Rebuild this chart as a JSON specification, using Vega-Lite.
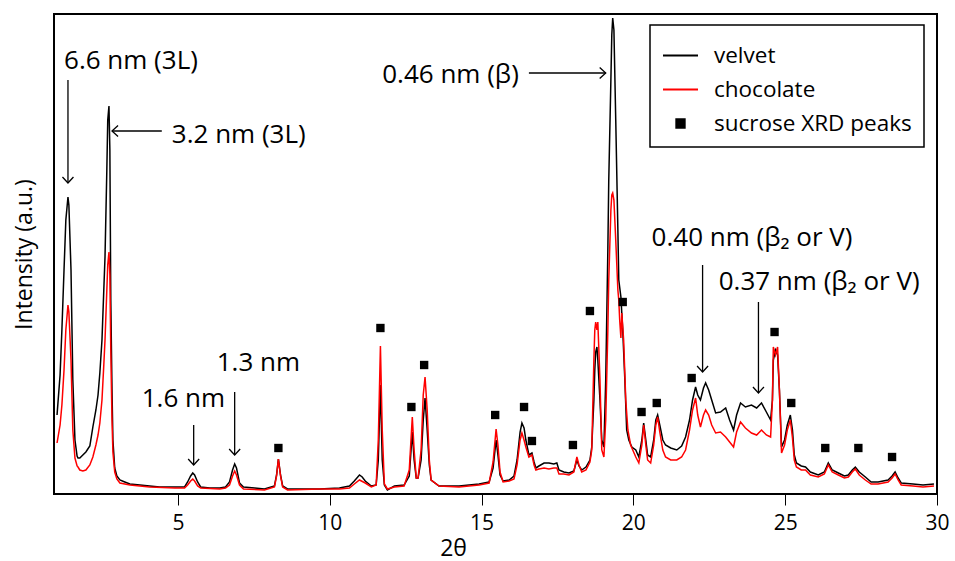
{
  "$schema": "https://vega.github.io/schema/vega-lite/v6.json",
  "width": 883,
  "height": 480,
  "autosize": {"type": "none"},
  "padding": {"left": 54, "top": 14, "right": 18, "bottom": 67},
  "background": "white",
  "config": {
    "font": "Open Sans",
    "view": {"stroke": "black", "strokeWidth": 2},
    "legend": {
      "orient": "none",
      "legendX": 596,
      "legendY": 11,
      "strokeColor": "black",
      "strokeWidth": 1.5,
      "padding": 12,
      "labelFont": "Open Sans",
      "labelFontSize": 22.5,
      "labelColor": "black",
      "labelOffset": 15,
      "labelLimit": 0,
      "symbolType": "stroke",
      "symbolSize": 1225,
      "symbolStrokeWidth": 2,
      "rowPadding": 4,
      "title": null
    }
  },
  "datasets": {
    "velvet": [
      {"x":1.02,"y":79},{"x":1.12,"y":119},{"x":1.18,"y":164},{"x":1.25,"y":224},{"x":1.31,"y":274},{"x":1.38,"y":297},{"x":1.41,"y":289},{"x":1.48,"y":224},{"x":1.54,"y":114},{"x":1.61,"y":54},{"x":1.68,"y":38},{"x":1.71,"y":36},{"x":1.77,"y":36},{"x":1.87,"y":39},{"x":1.97,"y":42},{"x":2.10,"y":48},{"x":2.20,"y":67},{"x":2.30,"y":84},{"x":2.37,"y":99},{"x":2.43,"y":121},{"x":2.50,"y":154},{"x":2.56,"y":204},{"x":2.60,"y":237},{"x":2.66,"y":324},{"x":2.69,"y":374},{"x":2.73,"y":388},{"x":2.76,"y":344},{"x":2.79,"y":194},{"x":2.83,"y":104},{"x":2.86,"y":54},{"x":2.92,"y":26},{"x":2.99,"y":18},{"x":3.09,"y":14},{"x":3.25,"y":12},{"x":3.42,"y":10},{"x":3.75,"y":9},{"x":4.07,"y":8},{"x":4.40,"y":7},{"x":4.90,"y":7},{"x":5.22,"y":7},{"x":5.32,"y":12},{"x":5.42,"y":18},{"x":5.49,"y":21},{"x":5.55,"y":19},{"x":5.65,"y":12},{"x":5.75,"y":7},{"x":6.05,"y":6},{"x":6.38,"y":6},{"x":6.57,"y":7},{"x":6.70,"y":12},{"x":6.80,"y":24},{"x":6.87,"y":30},{"x":6.93,"y":26},{"x":7.03,"y":11},{"x":7.16,"y":7},{"x":7.53,"y":6},{"x":7.85,"y":5},{"x":8.18,"y":8},{"x":8.25,"y":19},{"x":8.31,"y":35},{"x":8.38,"y":19},{"x":8.45,"y":8},{"x":8.61,"y":5},{"x":9.00,"y":5},{"x":9.66,"y":5},{"x":10.32,"y":6},{"x":10.65,"y":8},{"x":10.81,"y":13},{"x":10.98,"y":19},{"x":11.07,"y":17},{"x":11.17,"y":13},{"x":11.37,"y":8},{"x":11.53,"y":9},{"x":11.60,"y":34},{"x":11.67,"y":109},{"x":11.73,"y":34},{"x":11.80,"y":9},{"x":11.90,"y":4},{"x":12.13,"y":8},{"x":12.45,"y":9},{"x":12.62,"y":18},{"x":12.72,"y":62},{"x":12.78,"y":34},{"x":12.85,"y":16},{"x":12.91,"y":16},{"x":13.01,"y":34},{"x":13.08,"y":74},{"x":13.14,"y":96},{"x":13.21,"y":64},{"x":13.28,"y":29},{"x":13.34,"y":14},{"x":13.60,"y":8},{"x":14.26,"y":8},{"x":14.92,"y":10},{"x":15.25,"y":12},{"x":15.38,"y":26},{"x":15.48,"y":54},{"x":15.54,"y":39},{"x":15.61,"y":19},{"x":15.71,"y":13},{"x":15.91,"y":14},{"x":16.07,"y":18},{"x":16.17,"y":34},{"x":16.27,"y":62},{"x":16.33,"y":71},{"x":16.40,"y":66},{"x":16.46,"y":54},{"x":16.56,"y":39},{"x":16.66,"y":41},{"x":16.73,"y":32},{"x":16.79,"y":26},{"x":16.89,"y":28},{"x":17.06,"y":31},{"x":17.22,"y":31},{"x":17.38,"y":30},{"x":17.48,"y":31},{"x":17.55,"y":24},{"x":17.71,"y":22},{"x":17.88,"y":21},{"x":18.04,"y":23},{"x":18.14,"y":34},{"x":18.21,"y":28},{"x":18.30,"y":24},{"x":18.44,"y":27},{"x":18.57,"y":34},{"x":18.63,"y":47},{"x":18.70,"y":94},{"x":18.73,"y":124},{"x":18.76,"y":142},{"x":18.80,"y":147},{"x":18.83,"y":134},{"x":18.90,"y":94},{"x":18.96,"y":54},{"x":19.03,"y":47},{"x":19.09,"y":114},{"x":19.16,"y":244},{"x":19.19,"y":314},{"x":19.26,"y":414},{"x":19.29,"y":459},{"x":19.32,"y":476},{"x":19.36,"y":464},{"x":19.42,"y":374},{"x":19.49,"y":264},{"x":19.52,"y":214},{"x":19.59,"y":197},{"x":19.65,"y":164},{"x":19.72,"y":114},{"x":19.78,"y":64},{"x":19.85,"y":54},{"x":19.95,"y":47},{"x":20.08,"y":44},{"x":20.18,"y":37},{"x":20.28,"y":54},{"x":20.34,"y":71},{"x":20.41,"y":54},{"x":20.47,"y":39},{"x":20.57,"y":37},{"x":20.67,"y":54},{"x":20.74,"y":74},{"x":20.80,"y":79},{"x":20.87,"y":69},{"x":20.97,"y":54},{"x":21.06,"y":49},{"x":21.23,"y":46},{"x":21.43,"y":44},{"x":21.59,"y":48},{"x":21.72,"y":57},{"x":21.85,"y":74},{"x":21.95,"y":94},{"x":22.05,"y":107},{"x":22.12,"y":99},{"x":22.21,"y":94},{"x":22.31,"y":106},{"x":22.38,"y":111},{"x":22.48,"y":104},{"x":22.58,"y":94},{"x":22.71,"y":81},{"x":22.87,"y":82},{"x":23.04,"y":86},{"x":23.17,"y":74},{"x":23.30,"y":64},{"x":23.40,"y":79},{"x":23.53,"y":91},{"x":23.69,"y":87},{"x":23.89,"y":89},{"x":24.06,"y":86},{"x":24.22,"y":91},{"x":24.38,"y":82},{"x":24.52,"y":74},{"x":24.58,"y":94},{"x":24.61,"y":134},{"x":24.68,"y":144},{"x":24.75,"y":139},{"x":24.81,"y":104},{"x":24.88,"y":47},{"x":24.98,"y":54},{"x":25.07,"y":69},{"x":25.17,"y":79},{"x":25.24,"y":64},{"x":25.30,"y":39},{"x":25.37,"y":31},{"x":25.53,"y":28},{"x":25.67,"y":27},{"x":25.83,"y":22},{"x":26.09,"y":19},{"x":26.29,"y":22},{"x":26.42,"y":31},{"x":26.55,"y":24},{"x":26.75,"y":21},{"x":26.95,"y":18},{"x":27.08,"y":19},{"x":27.21,"y":24},{"x":27.31,"y":27},{"x":27.44,"y":22},{"x":27.64,"y":17},{"x":27.83,"y":12},{"x":28.06,"y":12},{"x":28.39,"y":14},{"x":28.52,"y":18},{"x":28.62,"y":22},{"x":28.72,"y":16},{"x":28.82,"y":11},{"x":29.21,"y":10},{"x":29.54,"y":9},{"x":29.90,"y":10}
    ],
    "chocolate": [
      {"x":1.02,"y":51},{"x":1.12,"y":69},{"x":1.18,"y":89},{"x":1.25,"y":124},{"x":1.31,"y":164},{"x":1.38,"y":189},{"x":1.41,"y":182},{"x":1.48,"y":134},{"x":1.54,"y":64},{"x":1.61,"y":36},{"x":1.68,"y":28},{"x":1.71,"y":27},{"x":1.77,"y":24},{"x":1.87,"y":23},{"x":1.97,"y":24},{"x":2.10,"y":29},{"x":2.20,"y":37},{"x":2.30,"y":49},{"x":2.37,"y":59},{"x":2.43,"y":71},{"x":2.50,"y":94},{"x":2.56,"y":129},{"x":2.60,"y":154},{"x":2.66,"y":204},{"x":2.69,"y":229},{"x":2.73,"y":242},{"x":2.76,"y":219},{"x":2.79,"y":144},{"x":2.83,"y":74},{"x":2.86,"y":42},{"x":2.92,"y":22},{"x":2.99,"y":15},{"x":3.09,"y":11},{"x":3.42,"y":9},{"x":4.07,"y":7},{"x":4.90,"y":6},{"x":5.22,"y":6},{"x":5.32,"y":9},{"x":5.42,"y":13},{"x":5.49,"y":15},{"x":5.55,"y":13},{"x":5.65,"y":8},{"x":5.75,"y":6},{"x":6.38,"y":5},{"x":6.57,"y":6},{"x":6.70,"y":9},{"x":6.80,"y":18},{"x":6.87,"y":23},{"x":6.93,"y":19},{"x":7.03,"y":9},{"x":7.16,"y":5},{"x":7.85,"y":4},{"x":8.18,"y":7},{"x":8.25,"y":18},{"x":8.31,"y":35},{"x":8.38,"y":18},{"x":8.45,"y":7},{"x":8.61,"y":4},{"x":9.66,"y":5},{"x":10.32,"y":5},{"x":10.65,"y":6},{"x":10.81,"y":10},{"x":10.98,"y":14},{"x":11.17,"y":11},{"x":11.37,"y":7},{"x":11.53,"y":9},{"x":11.60,"y":54},{"x":11.67,"y":148},{"x":11.73,"y":64},{"x":11.80,"y":10},{"x":11.90,"y":5},{"x":12.13,"y":7},{"x":12.45,"y":8},{"x":12.62,"y":24},{"x":12.72,"y":77},{"x":12.78,"y":44},{"x":12.85,"y":16},{"x":12.91,"y":16},{"x":13.01,"y":44},{"x":13.08,"y":99},{"x":13.14,"y":117},{"x":13.21,"y":84},{"x":13.28,"y":34},{"x":13.34,"y":14},{"x":13.60,"y":8},{"x":14.26,"y":7},{"x":14.92,"y":9},{"x":15.25,"y":11},{"x":15.38,"y":32},{"x":15.48,"y":65},{"x":15.54,"y":49},{"x":15.61,"y":22},{"x":15.71,"y":12},{"x":15.91,"y":13},{"x":16.07,"y":15},{"x":16.17,"y":29},{"x":16.27,"y":54},{"x":16.33,"y":61},{"x":16.40,"y":54},{"x":16.46,"y":47},{"x":16.56,"y":37},{"x":16.66,"y":39},{"x":16.73,"y":29},{"x":16.79,"y":24},{"x":16.89,"y":25},{"x":17.06,"y":26},{"x":17.22,"y":25},{"x":17.38,"y":26},{"x":17.48,"y":26},{"x":17.55,"y":20},{"x":17.71,"y":20},{"x":17.88,"y":19},{"x":18.04,"y":22},{"x":18.14,"y":37},{"x":18.21,"y":29},{"x":18.30,"y":22},{"x":18.44,"y":24},{"x":18.57,"y":32},{"x":18.63,"y":44},{"x":18.70,"y":134},{"x":18.73,"y":164},{"x":18.76,"y":172},{"x":18.80,"y":164},{"x":18.83,"y":172},{"x":18.90,"y":114},{"x":18.96,"y":44},{"x":19.03,"y":37},{"x":19.09,"y":74},{"x":19.16,"y":164},{"x":19.19,"y":214},{"x":19.26,"y":284},{"x":19.29,"y":299},{"x":19.32,"y":301},{"x":19.36,"y":294},{"x":19.42,"y":254},{"x":19.49,"y":204},{"x":19.52,"y":194},{"x":19.55,"y":174},{"x":19.59,"y":156},{"x":19.62,"y":181},{"x":19.68,"y":154},{"x":19.75,"y":94},{"x":19.82,"y":64},{"x":19.91,"y":49},{"x":20.08,"y":37},{"x":20.18,"y":31},{"x":20.28,"y":49},{"x":20.34,"y":69},{"x":20.41,"y":49},{"x":20.47,"y":34},{"x":20.57,"y":31},{"x":20.67,"y":49},{"x":20.74,"y":69},{"x":20.80,"y":77},{"x":20.87,"y":62},{"x":20.97,"y":44},{"x":21.06,"y":37},{"x":21.23,"y":34},{"x":21.43,"y":34},{"x":21.59,"y":37},{"x":21.72,"y":44},{"x":21.85,"y":64},{"x":21.95,"y":84},{"x":22.05,"y":96},{"x":22.12,"y":79},{"x":22.21,"y":67},{"x":22.31,"y":79},{"x":22.38,"y":84},{"x":22.48,"y":79},{"x":22.58,"y":69},{"x":22.71,"y":61},{"x":22.87,"y":62},{"x":23.04,"y":57},{"x":23.17,"y":52},{"x":23.30,"y":47},{"x":23.40,"y":62},{"x":23.53,"y":72},{"x":23.69,"y":66},{"x":23.89,"y":61},{"x":24.06,"y":59},{"x":24.22,"y":64},{"x":24.38,"y":59},{"x":24.52,"y":57},{"x":24.58,"y":94},{"x":24.61,"y":147},{"x":24.68,"y":139},{"x":24.75,"y":147},{"x":24.81,"y":104},{"x":24.88,"y":41},{"x":24.98,"y":49},{"x":25.07,"y":64},{"x":25.17,"y":74},{"x":25.24,"y":56},{"x":25.30,"y":34},{"x":25.37,"y":27},{"x":25.53,"y":24},{"x":25.67,"y":24},{"x":25.83,"y":19},{"x":26.09,"y":17},{"x":26.29,"y":20},{"x":26.42,"y":29},{"x":26.55,"y":22},{"x":26.75,"y":19},{"x":26.95,"y":16},{"x":27.08,"y":17},{"x":27.21,"y":22},{"x":27.31,"y":25},{"x":27.44,"y":19},{"x":27.64,"y":14},{"x":27.83,"y":10},{"x":28.06,"y":10},{"x":28.39,"y":12},{"x":28.52,"y":16},{"x":28.62,"y":20},{"x":28.72,"y":14},{"x":28.82,"y":9},{"x":29.21,"y":8},{"x":29.54,"y":7},{"x":29.90,"y":8}
    ],
    "peaks": [
      {"x":8.31,"y":46},{"x":11.67,"y":166},{"x":12.69,"y":87},{"x":13.11,"y":129},{"x":15.45,"y":79},{"x":16.40,"y":87},{"x":16.66,"y":53},{"x":18.01,"y":49},{"x":18.57,"y":183},{"x":19.65,"y":192},{"x":20.27,"y":82},{"x":20.77,"y":91},{"x":21.92,"y":116},{"x":24.65,"y":162},{"x":25.20,"y":91},{"x":26.32,"y":46},{"x":27.41,"y":46},{"x":28.52,"y":37}
    ],
    "labels": [
      {"label":"6.6 nm (3L)","x":1.25,"y":433},
      {"label":"3.2 nm (3L)","x":4.80,"y":359},
      {"label":"0.46 nm (β)","x":11.73,"y":419},
      {"label":"1.6 nm","x":3.81,"y":95},
      {"label":"1.3 nm","x":6.28,"y":131},
      {"label":"0.40 nm (β₂ or V)","x":20.60,"y":256},
      {"label":"0.37 nm (β₂ or V)","x":22.81,"y":212}
    ],
    "arrows": [
      {"x":1.38,"x2":1.38,"y":414,"y2":311,"dir":"down"},
      {"x":4.47,"x2":2.83,"y":363,"y2":363,"dir":"left"},
      {"x":16.56,"x2":19.09,"y":421,"y2":421,"dir":"right"},
      {"x":5.52,"x2":5.52,"y":69,"y2":29,"dir":"down"},
      {"x":6.87,"x2":6.87,"y":102,"y2":39,"dir":"down"},
      {"x":22.28,"x2":22.28,"y":229,"y2":122,"dir":"down"},
      {"x":24.12,"x2":24.12,"y":192,"y2":101,"dir":"down"}
    ]
  },
  "encoding": {
    "x": {
      "field": "x",
      "type": "quantitative",
      "scale": {"domain": [0.92, 30], "nice": false, "zero": false},
      "axis": {
        "title": "2θ",
        "values": [5, 10, 15, 20, 25, 30],
        "grid": false,
        "domain": false,
        "ticks": true,
        "tickSize": 11,
        "tickColor": "black",
        "tickWidth": 1,
        "labelFont": "Open Sans",
        "labelFontSize": 21,
        "labelColor": "black",
        "labelPadding": 7,
        "labelFlush": false,
        "titleFont": "Open Sans",
        "titleFontSize": 23,
        "titleFontWeight": "normal",
        "titleColor": "black",
        "titleX": 399,
        "titleY": 54,
        "titleBaseline": "middle"
      }
    },
    "y": {
      "field": "y",
      "type": "quantitative",
      "scale": {"domain": [0, 480], "nice": false},
      "axis": {
        "title": "Intensity (a.u.)",
        "labels": false,
        "ticks": false,
        "domain": false,
        "grid": false,
        "titleFont": "Open Sans",
        "titleFontSize": 23,
        "titleFontWeight": "normal",
        "titleColor": "black",
        "titleX": -30,
        "titleY": 240,
        "titleBaseline": "middle"
      }
    }
  },
  "layer": [
    {
      "data": {"name": "velvet"},
      "mark": {"type": "line", "strokeWidth": 1.5, "interpolate": "linear"},
      "encoding": {
        "color": {
          "datum": "velvet",
          "type": "nominal",
          "scale": {"domain": ["velvet", "chocolate", "sucrose XRD peaks"], "range": ["black", "#ff0000", "black"]},
          "legend": {
            "encode": {
              "symbols": {
                "update": {
                  "shape": {"signal": "datum.value === 'sucrose XRD peaks' ? 'square' : 'stroke'"},
                  "size": {"signal": "datum.value === 'sucrose XRD peaks' ? 70 : 1225"},
                  "fill": {"signal": "datum.value === 'sucrose XRD peaks' ? 'black' : 'transparent'"},
                  "stroke": {"signal": "datum.value === 'velvet' ? 'black' : datum.value === 'chocolate' ? '#ff0000' : 'transparent'"},
                  "strokeWidth": {"value": 2},
                  "opacity": {"value": 1}
                }
              }
            }
          }
        }
      }
    },
    {
      "data": {"name": "chocolate"},
      "mark": {"type": "line", "strokeWidth": 1.5, "interpolate": "linear"},
      "encoding": {
        "color": {"datum": "chocolate", "type": "nominal"}
      }
    },
    {
      "data": {"name": "peaks"},
      "mark": {"type": "point", "shape": "square", "filled": true, "size": 70, "opacity": 1},
      "encoding": {
        "color": {"datum": "sucrose XRD peaks", "type": "nominal"}
      }
    },
    {
      "data": {"name": "arrows"},
      "mark": {"type": "rule", "color": "black", "strokeWidth": 1.3},
      "encoding": {
        "x2": {"field": "x2"},
        "y2": {"field": "y2"}
      }
    },
    {
      "data": {"name": "arrows"},
      "transform": [{"filter": "datum.dir === 'down'"}],
      "mark": {"type": "point", "shape": "M-1,-1.1L0,0L1,-1.1", "filled": false, "color": "black", "strokeWidth": 1.3, "size": 121, "opacity": 1},
      "encoding": {
        "x": {"field": "x2", "type": "quantitative"},
        "y": {"field": "y2", "type": "quantitative"}
      }
    },
    {
      "data": {"name": "arrows"},
      "transform": [{"filter": "datum.dir === 'left'"}],
      "mark": {"type": "point", "shape": "M-1,-1.1L0,0L1,-1.1", "filled": false, "color": "black", "strokeWidth": 1.3, "size": 121, "angle": 90, "opacity": 1},
      "encoding": {
        "x": {"field": "x2", "type": "quantitative"},
        "y": {"field": "y2", "type": "quantitative"}
      }
    },
    {
      "data": {"name": "arrows"},
      "transform": [{"filter": "datum.dir === 'right'"}],
      "mark": {"type": "point", "shape": "M-1,-1.1L0,0L1,-1.1", "filled": false, "color": "black", "strokeWidth": 1.3, "size": 121, "angle": 270, "opacity": 1},
      "encoding": {
        "x": {"field": "x2", "type": "quantitative"},
        "y": {"field": "y2", "type": "quantitative"}
      }
    },
    {
      "data": {"name": "labels"},
      "mark": {"type": "text", "align": "left", "baseline": "middle", "font": "Open Sans", "fontSize": 26, "color": "black"},
      "encoding": {
        "text": {"field": "label"}
      }
    }
  ]
}
